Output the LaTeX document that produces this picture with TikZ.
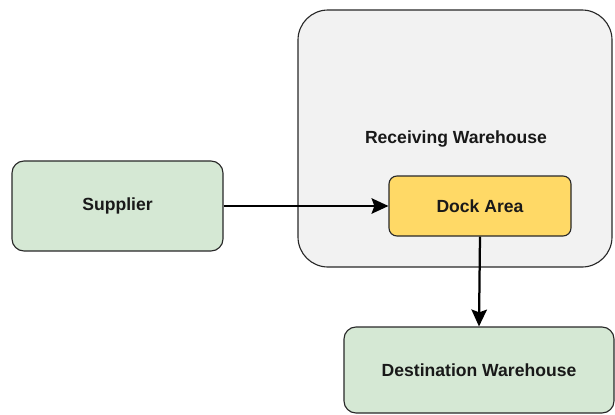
\documentclass[tikz,border=0pt]{standalone}
\usepackage{fontspec}
\setmainfont{Liberation Sans}
\usetikzlibrary{arrows.meta}
\definecolor{boxgreen}{RGB}{213,232,212}
\definecolor{boxyellow}{RGB}{255,217,102}
\definecolor{boxgrey}{RGB}{242,242,242}
\definecolor{edgegrey}{RGB}{40,40,40}
\tikzset{%
  lbl/.style={font=\fontsize{12.5}{15}\selectfont\bfseries, text=black!90},%
  block/.style={draw=edgegrey, line width=0.8pt, inner sep=0pt, lbl},%
  flow/.style={line width=1.6pt, -{Stealth[length=12pt, width=11pt, inset=2pt]}},%
}

\begin{document}
\begin{tikzpicture}%
\useasboundingbox (0, 0) rectangle (15.375, 10.35);%
\node[block, fill=boxgrey, rounded corners=0.75cm, minimum width=7.85cm, minimum height=6.425cm] (recv) at (11.375, 6.8875) {};%
\node[lbl] (recvlabel) at (11.4, 6.875) {Receiving Warehouse};%
\node[block, fill=boxyellow, rounded corners=0.2cm, minimum width=4.55cm, minimum height=1.5cm] (dock) at (12.0, 5.2) {Dock Area};%
\node[block, fill=boxgreen, rounded corners=0.3cm, minimum width=5.275cm, minimum height=2.25cm] (supplier) at (2.9375, 5.2) {Supplier};%
\node[block, fill=boxgreen, rounded corners=0.3cm, minimum width=6.75cm, minimum height=2.15cm] (dest) at (11.975, 1.1) {Destination Warehouse};%
\draw[flow] (supplier.east) -- (dock.west);%
\draw[flow] (dock.south) -- (dest.north);%
\end{tikzpicture}
\end{document}
